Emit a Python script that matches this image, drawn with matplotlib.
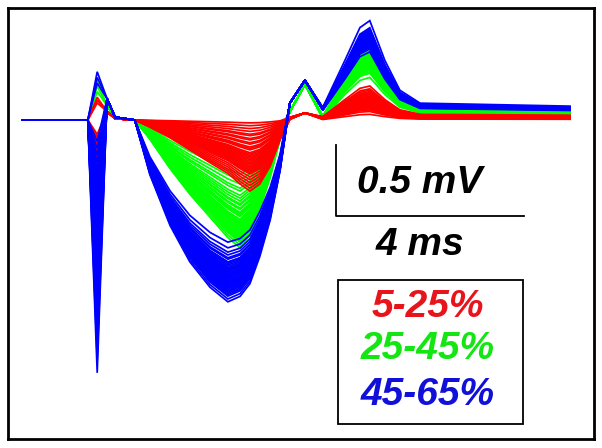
import numpy as np
import matplotlib
matplotlib.use("Agg")
import matplotlib.pyplot as plt
from matplotlib.patches import Rectangle

# sample times (ms) of the traces
t_ms = [0.0, 1.40, 1.60, 1.81, 1.98, 2.40, 2.72, 3.15, 3.57, 4.00, 4.38, 4.64, 4.85,
        5.06, 5.28, 5.49, 5.70, 6.02, 6.40, 6.87, 7.19, 7.40, 7.72, 8.04, 8.47, 11.66]
STIM_IDX = 2  # sample that carries the stimulus artifact

# negative wave shape per group (1 = trough)
blue_n_shape = [0, 0, 0, 0, 0, 0, 0.30, 0.58, 0.78, 0.92, 1.0, 0.97, 0.90,
                0.75, 0.55, 0.28, 0, 0, 0, 0, 0, 0, 0, 0, 0, 0]
green_n_shape = [0, 0, 0, 0, 0, 0, 0.15, 0.38, 0.58, 0.76, 0.92, 1.0, 0.90,
                 0.70, 0.45, 0.15, 0, 0, 0, 0, 0, 0, 0, 0, 0, 0]
red_n_shape = [0, 0, 0, 0, 0, 0, 0.10, 0.25, 0.42, 0.60, 0.75, 0.90, 1.0,
               0.90, 0.65, 0.28, 0.03, 0, 0, 0, 0, 0, 0, 0, 0, 0]

# late positive wave shape (1 = peak)
p_shape = [0, 0, 0, 0, 0, 0, 0, 0, 0, 0, 0, 0, 0,
           0, 0, 0, 0, 0, 0.10, 0.60, 0.93, 1.0, 0.60, 0.30, 0.17, 0.14]

# fixed part of each group (mV): artifact tail and small hump
blue_fixed = [0, 0, 0, 0.15, 0.02, 0, 0, 0, 0, 0, 0, 0, 0,
              0, 0, 0, 0.12, 0.28, 0.02, 0, 0, 0, 0, 0, 0, 0]
green_fixed = [0, 0, 0, 0.10, 0.02, 0, 0, 0, 0, 0, 0, 0, 0,
               0, 0, 0, 0.06, 0.25, -0.02, 0, 0, 0, 0, 0, 0, 0]
red_fixed = [0, 0, 0, 0.06, 0.01, 0, 0, 0, 0, 0, 0, 0, 0,
             0, 0, 0, 0.02, 0.05, 0.0, 0, 0, 0, 0, 0, 0, 0]

# per-trace trough depth (mV)
blue_n_depth = [0.86, 0.90, 0.93, 0.95, 0.97, 0.98, 1.00, 1.01, 1.02, 1.03, 1.04, 1.05,
                1.06, 1.06, 1.07, 1.08, 1.08, 1.09, 1.10, 1.10, 1.11, 1.12, 1.12, 1.13,
                1.14, 1.14, 1.15, 1.16, 1.16, 1.17, 1.18, 1.18, 1.19, 1.20, 1.20, 1.21,
                1.22, 1.23, 1.24, 1.26, 1.28, 1.00, 1.05, 1.10, 1.15]
green_n_depth = [0.38, 0.42, 0.45, 0.48, 0.50, 0.53, 0.55, 0.57, 0.59, 0.60, 0.62, 0.63,
                 0.65, 0.66, 0.67, 0.68, 0.70, 0.71, 0.72, 0.73, 0.74, 0.75, 0.76, 0.77,
                 0.78, 0.79, 0.80, 0.81, 0.82, 0.83, 0.84, 0.85, 0.86, 0.88, 0.90]
red_n_depth = [0.02, 0.04, 0.06, 0.08, 0.10, 0.11, 0.13, 0.14, 0.16, 0.17, 0.19, 0.20,
               0.21, 0.23, 0.24, 0.25, 0.26, 0.27, 0.28, 0.29, 0.30, 0.31, 0.32, 0.33,
               0.34, 0.35, 0.36, 0.37, 0.38, 0.40, 0.42, 0.44, 0.46, 0.48, 0.50]

# per-trace late peak height (mV)
blue_p_height = [0.50, 0.52, 0.53, 0.55, 0.54, 0.56, 0.57, 0.55, 0.58, 0.53, 0.60, 0.56,
                 0.59, 0.54, 0.61, 0.57, 0.52, 0.58, 0.62, 0.55, 0.60, 0.57, 0.63, 0.54,
                 0.59, 0.56, 0.61, 0.58, 0.64, 0.55, 0.60, 0.57, 0.62, 0.59, 0.65, 0.56,
                 0.61, 0.58, 0.63, 0.60, 0.70, 0.48, 0.51, 0.57, 0.62]
green_p_height = [0.30, 0.33, 0.36, 0.38, 0.35, 0.40, 0.42, 0.37, 0.44, 0.39, 0.41, 0.45,
                  0.36, 0.43, 0.47, 0.38, 0.40, 0.42, 0.46, 0.34, 0.41, 0.44, 0.39, 0.43,
                  0.48, 0.37, 0.42, 0.45, 0.40, 0.44, 0.49, 0.41, 0.43, 0.46, 0.39]
red_p_height = [0.04, 0.06, 0.08, 0.07, 0.10, 0.09, 0.12, 0.11, 0.08, 0.13, 0.10, 0.14,
                0.12, 0.09, 0.15, 0.11, 0.13, 0.16, 0.10, 0.14, 0.18, 0.12, 0.15, 0.17,
                0.13, 0.19, 0.16, 0.14, 0.20, 0.18, 0.22, 0.15, 0.21, 0.24, 0.19]

# per-trace stimulus artifact value (mV)
blue_stim = [0.34, -1.78, -1.20, -0.95, -1.50, -0.40, -1.05, -0.70, 0.30, -1.35, -0.85, -0.55,
             -1.62, -0.25, -1.10, -0.90, -1.45, -0.60, -1.25, -0.80, -1.00, -0.35, -1.55, -0.75,
             -1.15, -0.95, -0.50, -1.30, -0.65, -1.40, -0.20, -1.05, -0.88, -1.20, 0.26, -0.72,
             -1.68, -0.45, -1.00, -0.30, -1.10, -0.58, -0.82, -0.15, -1.35]
green_stim = [0.28, -0.45, -0.20, -0.62, -0.35, 0.24, -0.50, -0.28, -0.70, -0.40, -0.18, -0.55,
              -0.32, -0.65, -0.25, -0.48, -0.38, -0.58, 0.20, -0.30, -0.52, -0.42, -0.22, -0.60,
              -0.36, -0.46, -0.27, -0.66, -0.34, -0.54, -0.16, -0.44, -0.38, -0.50, -0.30]
red_stim = [0.16, -0.30, -0.12, -0.45, -0.22, 0.12, -0.66, -0.18, -0.38, -0.26, -0.10, -0.50,
            -0.34, -0.20, -0.42, 0.14, -0.28, -0.15, -0.55, -0.24, -0.36, -0.12, -0.46, -0.30,
            -0.19, -0.40, -0.25, -0.60, -0.32, -0.16, -0.44, -0.22, -0.35, -0.28, -0.48]

labels = ["5-25%", "25-45%", "45-65%"]
line_colors = ["#ff0000", "#00ff00", "#0000ff"]
text_colors = ["#e8141c", "#14e614", "#1010d8"]


def draw_group(ax, n_shape, fixed, n_depth, p_height, stim, color):
    n_shape = np.array(n_shape)
    fixed = np.array(fixed)
    p = np.array(p_shape)
    for d, h, s in zip(n_depth, p_height, stim):
        v = fixed - d * n_shape + h * p
        v[STIM_IDX] = s
        ax.plot(t_ms, v, color=color, lw=1.25, solid_joinstyle="miter")


fig = plt.figure(figsize=(6.02, 4.48), dpi=100)
ax = fig.add_axes([8 / 602, 1 - 439 / 448, 586 / 602, 431 / 448])
ax.set_xlim(-0.298, 12.17)
ax.set_ylim(-2.246, 0.789)
ax.set_xticks([])
ax.set_yticks([])
for sp in ax.spines.values():
    sp.set_linewidth(2.0)
    sp.set_color("black")

draw_group(ax, green_n_shape, green_fixed, green_n_depth, green_p_height, green_stim, line_colors[1])
draw_group(ax, red_n_shape, red_fixed, red_n_depth, red_p_height, red_stim, line_colors[0])
draw_group(ax, blue_n_shape, blue_fixed, blue_n_depth, blue_p_height, blue_stim, line_colors[2])

# scale bars
ax.plot([6.68, 6.68, 10.68], [-0.176, -0.676, -0.676], color="black", lw=1.3)
font = dict(family="Liberation Sans", weight="bold", style="italic", size=28)
ax.text(8.47, -0.444, "0.5 mV", ha="center", va="center", **font)
ax.text(8.47, -0.88, "4 ms", ha="center", va="center", **font)

# legend box
ax.add_patch(Rectangle((6.72, -2.141), 3.94, 1.014, fill=False, ec="black", lw=1.3))
for lab, c, y in zip(labels, text_colors, [-1.317, -1.613, -1.937]):
    ax.text(8.64, y, lab, color=c, ha="center", va="center", **font)

fig.savefig("out.png", dpi=100)
